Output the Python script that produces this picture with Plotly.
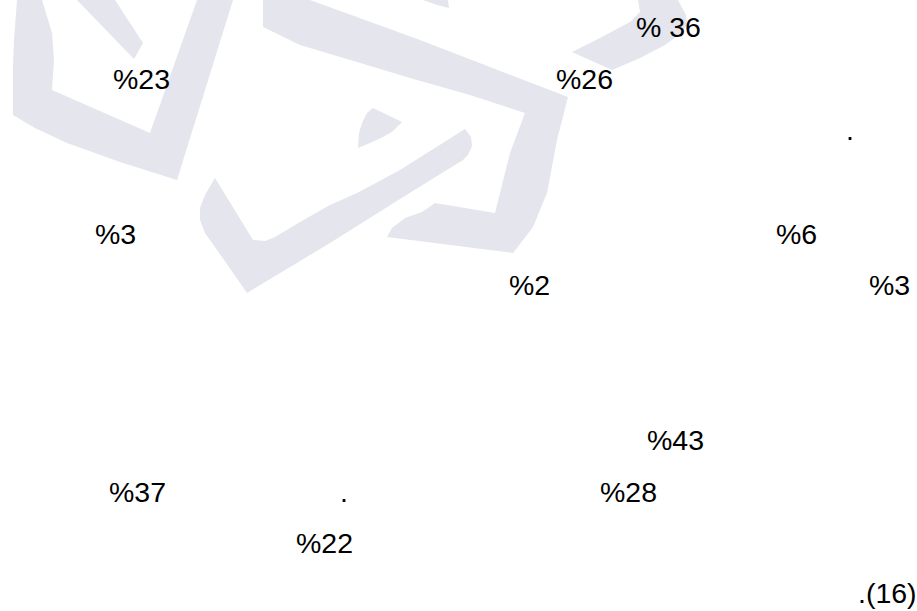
import plotly.graph_objects as go

# ---- data (text content) ----
pct_values = [36, 23, 26, 3, 6, 2, 3, 43, 37, 28, 22]
pct_formats = ["% {}", "%{}", "%{}", "%{}", "%{}", "%{}", "%{}", "%{}", "%{}", "%{}", "%{}"]
other_texts = [".", ".", ".(16)"]

# ---- layout: positions (left edge x, baseline y, in page pixels) ----
pct_left = [635, 112, 555, 94, 775, 508, 868, 646, 108, 599, 295]
pct_base = [37, 89, 89, 244, 244, 295, 295, 450, 502, 502, 553]
other_left = [845, 339, 857]
other_base = [140, 502, 603]

W, H = 917, 611
FS = 28.5
FONT = "Liberation Sans, Arial, sans-serif"
WM = "#e4e5ed"

# watermark outline pieces (page pixels)
wm_pieces = [
    # left U-shaped stroke
    [(17, 0), (14, 40), (13, 67), (13, 115), (35, 128), (67, 143), (120, 162), (177, 180),
     (233, 0), (197, 0), (150, 133), (52, 90), (54, 60), (52, 33), (42, 0)],
    # short diagonal stroke at top left
    [(77, 0), (115, 0), (143, 43), (134, 59)],
    # large angular band
    [(263, 0), (310, 0), (420, 40), (568, 97), (557, 140), (547, 193), (533, 227), (513, 253),
     (387, 237), (392, 228), (405, 218), (422, 212), (435, 203), (495, 213), (502, 185),
     (510, 153), (525, 113), (470, 95), (410, 78), (357, 62), (300, 45), (263, 27)],
    # small leaf
    [(373, 108), (402, 122), (393, 131), (383, 137), (370, 143), (358, 148), (359, 133),
     (362, 123), (367, 113)],
    # long diagonal stroke towards bottom left
    [(465, 129), (471, 137), (472, 146), (468, 155), (463, 160), (400, 199), (330, 243),
     (247, 293), (238, 280), (222, 257), (205, 233), (200, 220), (200, 208), (205, 195),
     (215, 178), (253, 240), (265, 241), (275, 237), (300, 222), (330, 205), (357, 193),
     (400, 170)],
    # arc near the top
    [(638, 0), (678, 0), (686, 15), (687, 25), (680, 34), (665, 45), (640, 58), (612, 70),
     (572, 52), (600, 38), (630, 22), (640, 12)],
    # tiny sliver at top
    [(423, 0), (448, 0), (449, 8), (437, 5)],
]


def to_path(pts):
    return "M " + " L ".join(f"{x},{y}" for x, y in pts) + " Z"


fig = go.Figure()
fig.add_trace(go.Scatter(x=[0, W], y=[0, H], mode="markers",
                         marker=dict(opacity=0), hoverinfo="skip", showlegend=False))

for pts in wm_pieces:
    fig.add_shape(type="path", path=to_path(pts), xref="x", yref="y",
                  fillcolor=WM, line=dict(width=0), layer="below")

center_off = 0.3465 * FS  # baseline -> text box middle

for v, fmt, x, b in zip(pct_values, pct_formats, pct_left, pct_base):
    fig.add_annotation(x=x, y=b - center_off, xref="x", yref="y", text=fmt.format(v),
                       showarrow=False, xanchor="left", yanchor="middle", borderpad=0,
                       font=dict(family=FONT, size=FS, color="#000000"))

for t, x, b in zip(other_texts, other_left, other_base):
    fig.add_annotation(x=x, y=b - center_off, xref="x", yref="y", text=t,
                       showarrow=False, xanchor="left", yanchor="middle", borderpad=0,
                       font=dict(family=FONT, size=FS, color="#000000"))

fig.update_layout(
    width=W, height=H, margin=dict(l=0, r=0, t=0, b=0),
    paper_bgcolor="white", plot_bgcolor="white",
    xaxis=dict(range=[0, W], visible=False, fixedrange=True),
    yaxis=dict(range=[H, 0], visible=False, fixedrange=True),
    showlegend=False,
)

fig.write_html(
    "out.html",
    config={"displayModeBar": False},
    post_script="document.body.style.margin='0';document.body.style.overflow='hidden';",
)
